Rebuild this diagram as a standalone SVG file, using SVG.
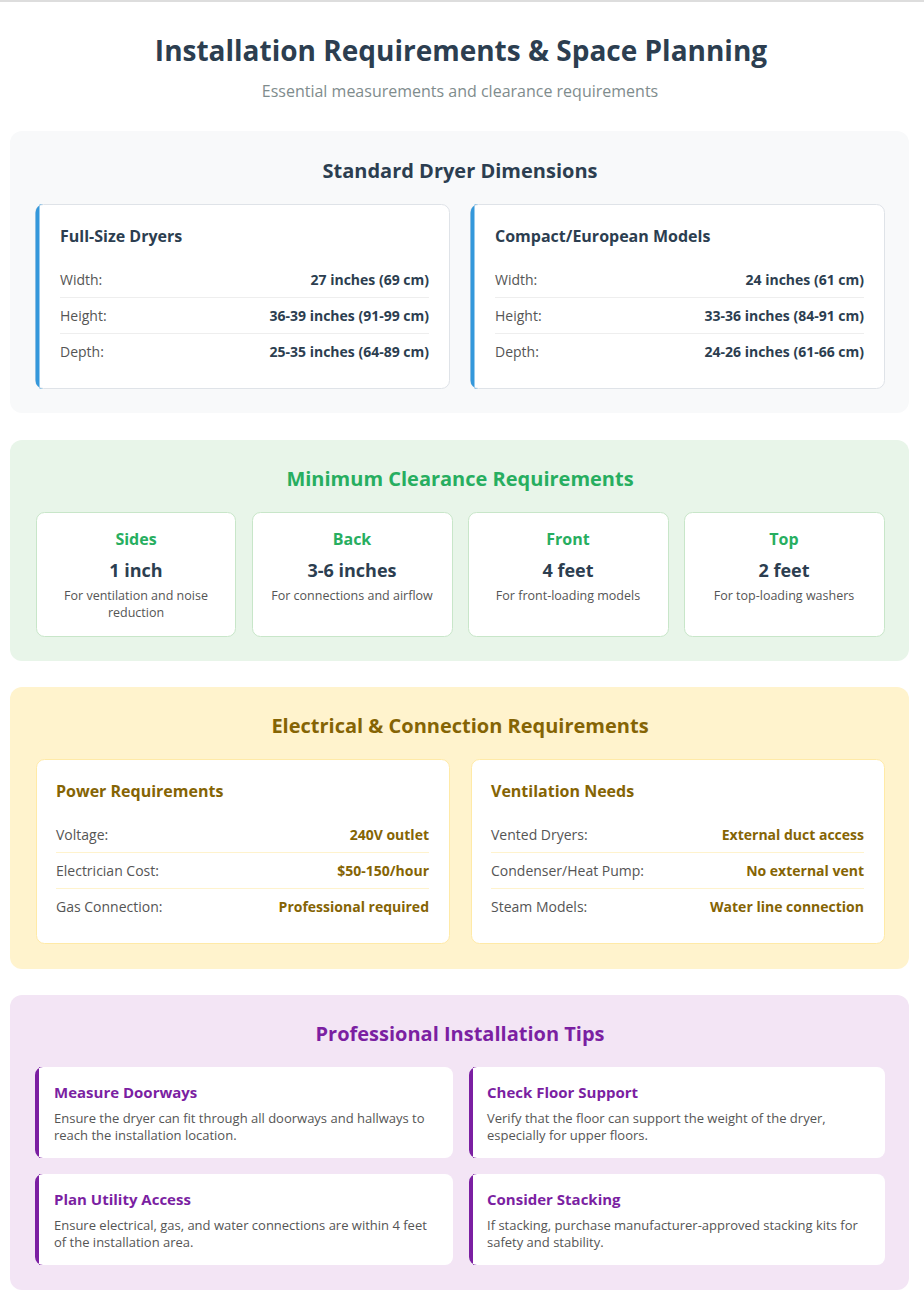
<svg xmlns="http://www.w3.org/2000/svg" width="924" height="1304" viewBox="0 0 924 1304">
<style>
text{font-family:"Open Sans","Noto Sans","Liberation Sans",sans-serif}
.h2{font-size:20px;font-weight:700;text-anchor:middle}
.h3{font-size:16px;font-weight:700}
.lb{font-size:14px;fill:#555}
.vl{font-size:14px;font-weight:700;text-anchor:end}
.sep{stroke:#eee;stroke-width:1}
.card{fill:#fff;stroke:#dfe3e8;stroke-width:1}
.gcard{fill:#fff;stroke:#c8e6c9;stroke-width:1}
.ycard{fill:#fff;stroke:#ffeaa7;stroke-width:1}
.ct{font-size:16px;font-weight:700;fill:#27ae60;text-anchor:middle}
.cv{font-size:18px;font-weight:700;fill:#2c3e50;text-anchor:middle}
.cd{font-size:12.5px;fill:#555;text-anchor:middle}
.tt{font-size:15px;font-weight:700;fill:#7b1fa2}
.td{font-size:13px;fill:#555}
</style>
<rect width="924" height="1304" fill="#fff"/>
<rect width="924" height="2" fill="#ddd"/>
<text x="461" y="61" text-anchor="middle" font-size="28" font-weight="700" fill="#2c3e50">Installation Requirements &amp; Space Planning</text>
<text x="460" y="97" text-anchor="middle" font-size="16" fill="#7f8c8d">Essential measurements and clearance requirements</text>

<g id="dimensions">
<rect x="10" y="131" width="899" height="282" rx="12" fill="#f8f9fa"/>
<text class="h2" x="460" y="178" fill="#2c3e50">Standard Dryer Dimensions</text>
<g id="full-size">
<rect class="card" x="35.5" y="204.5" width="414" height="184" rx="8"/>
<path d="M43.5 204.5 A8 8 0 0 0 35.5 212.5 V380.5 A8 8 0 0 0 43.5 388.5 H39.5 V204.5 Z" fill="#3498db"/>
<text class="h3" x="60" y="242" fill="#2c3e50">Full-Size Dryers</text>
<text class="lb" x="60" y="285">Width:</text><text class="vl" x="429" y="285" fill="#2c3e50">27 inches (69 cm)</text>
<line class="sep" x1="60" y1="297.5" x2="429" y2="297.5"/>
<text class="lb" x="60" y="321">Height:</text><text class="vl" x="429" y="321" fill="#2c3e50">36-39 inches (91-99 cm)</text>
<line class="sep" x1="60" y1="333.5" x2="429" y2="333.5"/>
<text class="lb" x="60" y="357">Depth:</text><text class="vl" x="429" y="357" fill="#2c3e50">25-35 inches (64-89 cm)</text>
</g>
<g id="compact">
<rect class="card" x="470.5" y="204.5" width="414" height="184" rx="8"/>
<path d="M478.5 204.5 A8 8 0 0 0 470.5 212.5 V380.5 A8 8 0 0 0 478.5 388.5 H474.5 V204.5 Z" fill="#3498db"/>
<text class="h3" x="495" y="242" fill="#2c3e50">Compact/European Models</text>
<text class="lb" x="495" y="285">Width:</text><text class="vl" x="864" y="285" fill="#2c3e50">24 inches (61 cm)</text>
<line class="sep" x1="495" y1="297.5" x2="864" y2="297.5"/>
<text class="lb" x="495" y="321">Height:</text><text class="vl" x="864" y="321" fill="#2c3e50">33-36 inches (84-91 cm)</text>
<line class="sep" x1="495" y1="333.5" x2="864" y2="333.5"/>
<text class="lb" x="495" y="357">Depth:</text><text class="vl" x="864" y="357" fill="#2c3e50">24-26 inches (61-66 cm)</text>
</g>
</g>

<g id="clearance">
<rect x="10" y="440" width="899" height="221" rx="12" fill="#e8f5e9"/>
<text class="h2" x="460" y="486" fill="#27ae60">Minimum Clearance Requirements</text>
<g id="sides"><rect class="gcard" x="36.5" y="512.5" width="199" height="124" rx="8"/>
<text class="ct" x="136" y="545">Sides</text><text class="cv" x="136" y="577">1 inch</text>
<text class="cd" x="136" y="600">For ventilation and noise</text><text class="cd" x="136" y="617">reduction</text></g>
<g id="back"><rect class="gcard" x="252.5" y="512.5" width="200" height="124" rx="8"/>
<text class="ct" x="352" y="545">Back</text><text class="cv" x="352" y="577">3-6 inches</text>
<text class="cd" x="352" y="600">For connections and airflow</text></g>
<g id="front"><rect class="gcard" x="468.5" y="512.5" width="200" height="124" rx="8"/>
<text class="ct" x="568" y="545">Front</text><text class="cv" x="568" y="577">4 feet</text>
<text class="cd" x="568" y="600">For front-loading models</text></g>
<g id="top"><rect class="gcard" x="684.5" y="512.5" width="200" height="124" rx="8"/>
<text class="ct" x="784" y="545">Top</text><text class="cv" x="784" y="577">2 feet</text>
<text class="cd" x="784" y="600">For top-loading washers</text></g>
</g>

<g id="electrical">
<rect x="10" y="687" width="899" height="282" rx="12" fill="#fff3cd"/>
<text class="h2" x="460" y="733" fill="#856404">Electrical &amp; Connection Requirements</text>
<g id="power">
<rect class="ycard" x="36.5" y="759.5" width="413" height="184" rx="8"/>
<text class="h3" x="56" y="797" fill="#856404">Power Requirements</text>
<text class="lb" x="56" y="840">Voltage:</text><text class="vl" x="429" y="840" fill="#856404">240V outlet</text>
<line x1="56" y1="852.5" x2="429" y2="852.5" stroke="#fff3cd"/>
<text class="lb" x="56" y="876">Electrician Cost:</text><text class="vl" x="429" y="876" fill="#856404">$50-150/hour</text>
<line x1="56" y1="888.5" x2="429" y2="888.5" stroke="#fff3cd"/>
<text class="lb" x="56" y="912">Gas Connection:</text><text class="vl" x="429" y="912" fill="#856404">Professional required</text>
</g>
<g id="ventilation">
<rect class="ycard" x="471.5" y="759.5" width="413" height="184" rx="8"/>
<text class="h3" x="491" y="797" fill="#856404">Ventilation Needs</text>
<text class="lb" x="491" y="840">Vented Dryers:</text><text class="vl" x="864" y="840" fill="#856404">External duct access</text>
<line x1="491" y1="852.5" x2="864" y2="852.5" stroke="#fff3cd"/>
<text class="lb" x="491" y="876">Condenser/Heat Pump:</text><text class="vl" x="864" y="876" fill="#856404">No external vent</text>
<line x1="491" y1="888.5" x2="864" y2="888.5" stroke="#fff3cd"/>
<text class="lb" x="491" y="912">Steam Models:</text><text class="vl" x="864" y="912" fill="#856404">Water line connection</text>
</g>
</g>

<g id="tips">
<rect x="10" y="995" width="899" height="295" rx="12" fill="#f3e5f5"/>
<text class="h2" x="460" y="1041" fill="#7b1fa2">Professional Installation Tips</text>
<g id="tip1"><rect x="35" y="1067" width="418" height="91" rx="8" fill="#fff"/>
<path d="M43 1067 A8 8 0 0 0 35 1075 V1150 A8 8 0 0 0 43 1158 H39 V1067 Z" fill="#7b1fa2"/>
<text class="tt" x="54" y="1098">Measure Doorways</text>
<text class="td" x="54" y="1123">Ensure the dryer can fit through all doorways and hallways to</text>
<text class="td" x="54" y="1140">reach the installation location.</text></g>
<g id="tip2"><rect x="469" y="1067" width="416" height="91" rx="8" fill="#fff"/>
<path d="M477 1067 A8 8 0 0 0 469 1075 V1150 A8 8 0 0 0 477 1158 H473 V1067 Z" fill="#7b1fa2"/>
<text class="tt" x="487" y="1098">Check Floor Support</text>
<text class="td" x="487" y="1123">Verify that the floor can support the weight of the dryer,</text>
<text class="td" x="487" y="1140">especially for upper floors.</text></g>
<g id="tip3"><rect x="35" y="1174" width="418" height="91" rx="8" fill="#fff"/>
<path d="M43 1174 A8 8 0 0 0 35 1182 V1257 A8 8 0 0 0 43 1265 H39 V1174 Z" fill="#7b1fa2"/>
<text class="tt" x="54" y="1205">Plan Utility Access</text>
<text class="td" x="54" y="1230">Ensure electrical, gas, and water connections are within 4 feet</text>
<text class="td" x="54" y="1247">of the installation area.</text></g>
<g id="tip4"><rect x="469" y="1174" width="416" height="91" rx="8" fill="#fff"/>
<path d="M477 1174 A8 8 0 0 0 469 1182 V1257 A8 8 0 0 0 477 1265 H473 V1174 Z" fill="#7b1fa2"/>
<text class="tt" x="487" y="1205">Consider Stacking</text>
<text class="td" x="487" y="1230">If stacking, purchase manufacturer-approved stacking kits for</text>
<text class="td" x="487" y="1247">safety and stability.</text></g>
</g>
</svg>
